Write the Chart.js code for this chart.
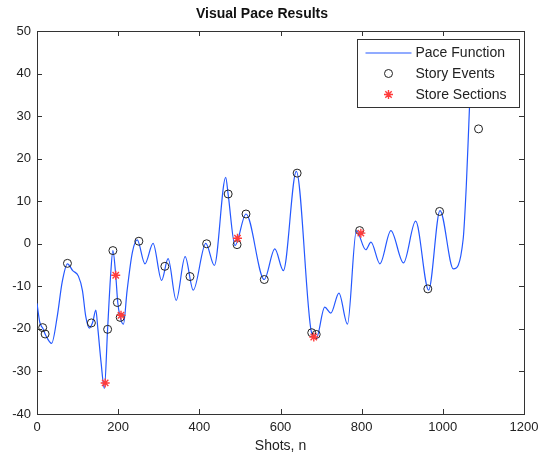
<!DOCTYPE html>
<html>
<head>
<meta charset="utf-8">
<script src="https://cdn.jsdelivr.net/npm/chart.js@4/dist/chart.umd.min.js"></script>
<style>
  html, body { margin: 0; padding: 0; background: #fff; overflow: hidden; }
  canvas { display: block; }
</style>
</head>
<body>
<canvas id="pace" width="541" height="457"></canvas>
<script>
// Visual pace results: pace function + story events + store sections

const paceX = [0, 7, 14, 22, 36, 50, 62, 75, 88, 102, 112, 120, 129, 137, 145, 150, 158, 166,
  174, 181, 187, 194, 199, 205, 213, 222, 235, 247, 266, 286, 307, 323, 343, 365, 385, 416,
  437, 465, 471, 488, 515, 560, 586, 607, 639, 676, 688, 709, 724, 744, 765, 787, 810, 823,
  845, 872, 903, 933, 965, 993, 1026, 1050, 1058, 1064, 1069, 1073];
const paceY = [-14, -18.5, -19.8, -21.6, -23.4, -17, -9, -4.7, -6.3, -7.6, -11, -17, -19.8, -18.5, -15.6, -20, -28, -34,
  -20, -8, -1.6, -7.4, -13.8, -17.3, -18.9, -11, -2, 0.9, -4.7, 0.1, -8.6, -3.5, -13.3, -3, -10.9, 0.1,
  -5.1, 15.6, 11.6, -0.4, 7, -8.4, -1.2, -6.3, 17, -20.7, -22.3, -14.9, -16.3, -11.6, -18.9, 3.1, -1.4, 0.4,
  -4.7, 3.1, -4.5, 5.3, -10.9, 7.8, -5.9, 1, 14, 28, 40, 48];

const eventX = [14, 20, 75, 134, 174, 187, 198, 205, 251, 315, 377, 418, 471, 493, 515, 560, 641, 677, 688, 795, 963, 992, 1088];
const eventY = [-19.7, -21.2, -4.6, -18.6, -20.1, -1.6, -13.8, -17.3, 0.6, -5.3, -7.7, 0, 11.7, -0.2, 7, -8.4, 16.6, -20.9, -21.3, 3.1, -10.6, 7.6, 27];

const storeX = [168, 194, 207, 494, 682, 798];
const storeY = [-32.7, -7.4, -16.8, 1.3, -21.9, 2.5];

const xTicks = [0, 200, 400, 600, 800, 1000, 1200];
const yTicks = [-40, -30, -20, -10, 0, 10, 20, 30, 40, 50];

const seriesNames = ['Pace Function', 'Story Events', 'Store Sections'];

const BLUE = '#2458ff';
const RED = '#ff3b3b';
const INK = '#222';
const FONT = "'Liberation Sans', Arial, sans-serif";

const toPoints = (xs, ys) => xs.map((x, i) => ({ x: x, y: ys[i] }));

// inward tick marks on all four sides + top/right border, like a boxed axes
const framePlugin = {
  id: 'frame',
  afterDatasetsDraw(chart) {
    const { ctx, chartArea: a, scales } = chart;
    const len = 5;
    ctx.save();
    ctx.strokeStyle = '#333';
    ctx.lineWidth = 1;
    ctx.beginPath();
    ctx.moveTo(a.left, a.top + 0.5);
    ctx.lineTo(a.right + 0.5, a.top + 0.5);
    ctx.lineTo(a.right + 0.5, a.bottom);
    scales.x.ticks.forEach(t => {
      const px = Math.round(scales.x.getPixelForValue(t.value)) + 0.5;
      ctx.moveTo(px, a.bottom); ctx.lineTo(px, a.bottom - len);
      ctx.moveTo(px, a.top); ctx.lineTo(px, a.top + len);
    });
    scales.y.ticks.forEach(t => {
      const py = Math.round(scales.y.getPixelForValue(t.value)) + 0.5;
      ctx.moveTo(a.left, py); ctx.lineTo(a.left + len, py);
      ctx.moveTo(a.right, py); ctx.lineTo(a.right - len, py);
    });
    ctx.stroke();
    ctx.restore();
  }
};

// MATLAB-style legend box in the top right corner of the axes
const legendPlugin = {
  id: 'boxLegend',
  afterDatasetsDraw(chart) {
    const { ctx, chartArea: a } = chart;
    const w = 162, h = 68;
    const x0 = Math.round(a.right - 5 - w) + 0.5;
    const y0 = Math.round(a.top + 8) + 0.5;
    ctx.save();
    ctx.fillStyle = '#fff';
    ctx.fillRect(x0, y0, w, h);
    ctx.strokeStyle = '#333';
    ctx.lineWidth = 1;
    ctx.strokeRect(x0, y0, w, h);

    const rowY = [y0 + 13.5, y0 + 34, y0 + 55];
    const symX = x0 + 31;

    ctx.strokeStyle = BLUE;
    ctx.lineWidth = 1.2;
    ctx.beginPath();
    ctx.moveTo(x0 + 8, rowY[0]);
    ctx.lineTo(x0 + 54, rowY[0]);
    ctx.stroke();

    ctx.strokeStyle = INK;
    ctx.lineWidth = 1;
    ctx.beginPath();
    ctx.arc(symX, rowY[1], 4, 0, Math.PI * 2);
    ctx.stroke();

    ctx.strokeStyle = RED;
    ctx.lineWidth = 1.4;
    ctx.beginPath();
    const r = 4.5;
    ctx.moveTo(symX - r, rowY[2]); ctx.lineTo(symX + r, rowY[2]);
    ctx.moveTo(symX, rowY[2] - r); ctx.lineTo(symX, rowY[2] + r);
    const d = r * Math.SQRT1_2;
    ctx.moveTo(symX - d, rowY[2] - d); ctx.lineTo(symX + d, rowY[2] + d);
    ctx.moveTo(symX - d, rowY[2] + d); ctx.lineTo(symX + d, rowY[2] - d);
    ctx.stroke();

    ctx.fillStyle = INK;
    ctx.font = '14px ' + FONT;
    ctx.textBaseline = 'middle';
    ctx.textAlign = 'left';
    seriesNames.forEach((name, i) => ctx.fillText(name, x0 + 58, rowY[i] + 0.5));
    ctx.restore();
  }
};

new Chart(document.getElementById('pace').getContext('2d'), {
  type: 'scatter',
  data: {
    datasets: [
      {
        label: seriesNames[0],
        type: 'line',
        data: toPoints(paceX, paceY),
        borderColor: BLUE,
        borderWidth: 1.2,
        pointRadius: 0,
        showLine: true,
        fill: false,
        cubicInterpolationMode: 'monotone',
        order: 3
      },
      {
        label: seriesNames[1],
        data: toPoints(eventX, eventY),
        pointStyle: 'circle',
        pointRadius: 4,
        borderColor: INK,
        backgroundColor: 'rgba(0,0,0,0)',
        borderWidth: 1,
        order: 2
      },
      {
        label: seriesNames[2],
        data: toPoints(storeX, storeY),
        pointStyle: 'star',
        pointRadius: 4.5,
        borderColor: RED,
        backgroundColor: RED,
        borderWidth: 1.4,
        order: 1
      }
    ]
  },
  options: {
    responsive: false,
    animation: false,
    devicePixelRatio: 1,
    layout: { padding: { left: 0, right: 17, top: 0, bottom: 0 } },
    plugins: {
      legend: { display: false },
      tooltip: { enabled: false },
      title: {
        display: true,
        text: 'Visual Pace Results',
        color: '#111',
        font: { family: FONT, size: 14, weight: 'bold' },
        padding: { top: 6, bottom: 8.2 }
      }
    },
    scales: {
      x: {
        type: 'linear',
        min: xTicks[0],
        max: xTicks[xTicks.length - 1],
        afterBuildTicks: s => { s.ticks = xTicks.map(v => ({ value: v })); },
        afterFit: s => { s.height = 43; s.paddingLeft = 0; s.paddingRight = 0; },
        grid: { display: true, drawOnChartArea: false, drawTicks: false },
        border: { display: true, color: '#333', width: 1 },
        ticks: {
          color: INK, padding: 6, maxRotation: 0,
          font: { family: FONT, size: 13 },
          callback: v => String(v)
        },
        title: {
          display: true,
          text: 'Shots, n',
          color: INK,
          font: { family: FONT, size: 14 },
          padding: { top: 0, bottom: 2 }
        }
      },
      y: {
        type: 'linear',
        min: yTicks[0],
        max: yTicks[yTicks.length - 1],
        afterBuildTicks: s => { s.ticks = yTicks.map(v => ({ value: v })); },
        afterFit: s => { s.width = 37; },
        grid: { display: true, drawOnChartArea: false, drawTicks: false },
        border: { display: true, color: '#333', width: 1 },
        ticks: { color: INK, padding: 6, font: { family: FONT, size: 13 }, callback: v => String(v) }
      }
    }
  },
  plugins: [framePlugin, legendPlugin]
});
</script>
</body>
</html>
